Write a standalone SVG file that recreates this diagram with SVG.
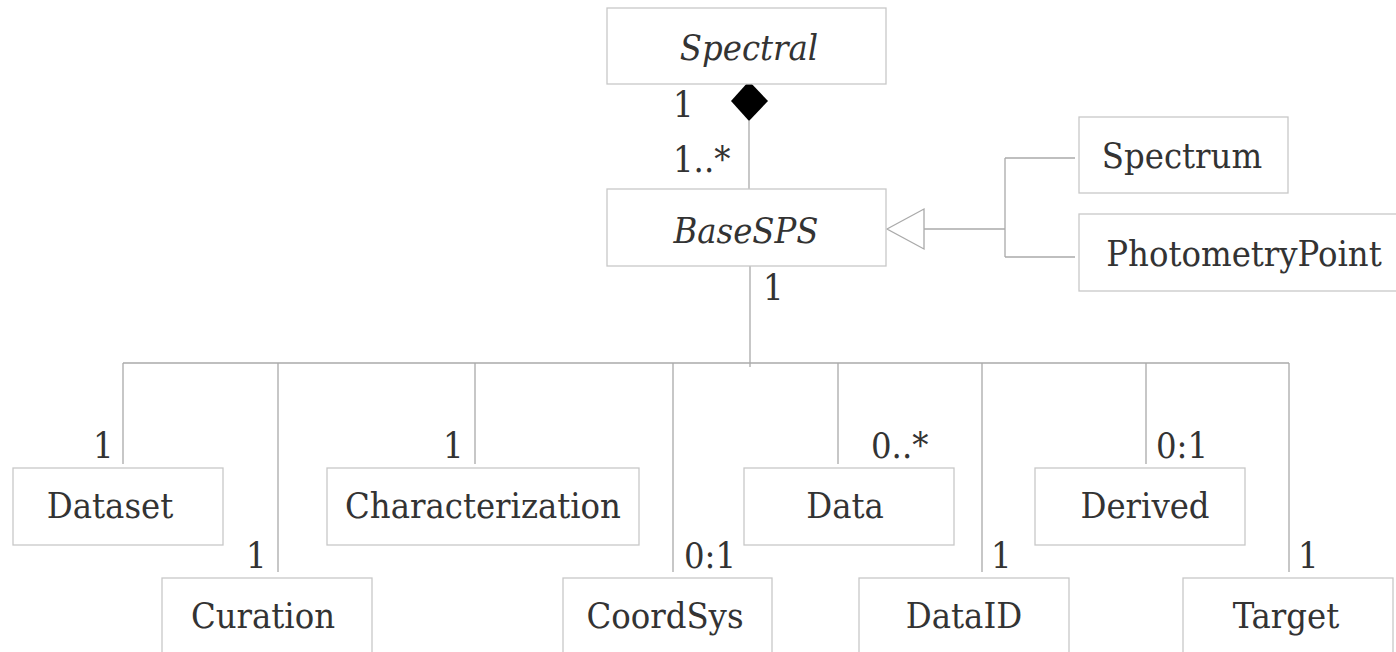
<svg xmlns="http://www.w3.org/2000/svg" width="1396" height="652" viewBox="0 0 1396 652">
<style>
.box{fill:#fff;stroke:#c8c8c8;stroke-width:1.3}
.t{font-family:"DejaVu Serif Condensed","DejaVu Serif","Liberation Serif",serif;font-stretch:condensed;font-size:36px;fill:#333;text-anchor:middle}
.i{font-style:italic}
.m{font-family:"DejaVu Serif Condensed","DejaVu Serif","Liberation Serif",serif;font-stretch:condensed;font-size:36px;fill:#333}
.ln{stroke:#aaa;stroke-width:1.3;fill:none}
</style>
<rect width="1396" height="652" fill="#fff"/>
<g id="connectors">
<path class="ln" d="M749,121 V189"/>
<polygon points="749,81 768,101 749,121 731,101" fill="#000"/>
<path class="ln" d="M750,266 V367 M123,363 H1289 M123,363 V464 M278,363 V572 M475,363 V464 M673,363 V572 M838,363 V464 M982,363 V572 M1146,363 V464 M1289,363 V572"/>
<polygon points="887,229 924,209 924,249" fill="#fff" stroke="#aaa" stroke-width="1.3"/>
<path class="ln" d="M924,229 H1005 M1005,158 V257 M1005,158 H1075 M1005,257 H1075"/>
<text class="m" x="673" y="117">1</text>
<text class="m" x="673" y="172">1..*</text>
<text class="m" x="763" y="300">1</text>
<text class="m" x="93" y="458">1</text>
<text class="m" x="246" y="568">1</text>
<text class="m" x="443" y="458">1</text>
<text class="m" x="684" y="568">0:1</text>
<text class="m" x="871" y="458">0..*</text>
<text class="m" x="991" y="568">1</text>
<text class="m" x="1156" y="458">0:1</text>
<text class="m" x="1298" y="568">1</text>
</g>
<g id="Spectral"><rect class="box" x="607" y="8" width="279" height="76"/><text class="t i" x="749" y="60">Spectral</text></g>
<g id="BaseSPS"><rect class="box" x="607" y="189" width="279" height="77"/><text class="t i" x="746" y="243">BaseSPS</text></g>
<g id="Spectrum"><rect class="box" x="1079" y="117" width="209" height="76"/><text class="t" x="1182" y="168">Spectrum</text></g>
<g id="PhotometryPoint"><rect class="box" x="1079" y="214" width="320" height="77"/><text class="t" x="1244" y="266">PhotometryPoint</text></g>
<g id="Dataset"><rect class="box" x="13" y="468" width="210" height="77"/><text class="t" x="110" y="518">Dataset</text></g>
<g id="Characterization"><rect class="box" x="327" y="468" width="312" height="77"/><text class="t" x="483" y="518">Characterization</text></g>
<g id="Data"><rect class="box" x="744" y="468" width="210" height="77"/><text class="t" x="845" y="518">Data</text></g>
<g id="Derived"><rect class="box" x="1035" y="468" width="210" height="77"/><text class="t" x="1145" y="518">Derived</text></g>
<g id="Curation"><rect class="box" x="162" y="578" width="210" height="80"/><text class="t" x="263" y="628">Curation</text></g>
<g id="CoordSys"><rect class="box" x="563" y="578" width="209" height="80"/><text class="t" x="665" y="628">CoordSys</text></g>
<g id="DataID"><rect class="box" x="859" y="578" width="210" height="80"/><text class="t" x="964" y="628">DataID</text></g>
<g id="Target"><rect class="box" x="1183" y="578" width="210" height="80"/><text class="t" x="1286" y="628">Target</text></g>
</svg>
